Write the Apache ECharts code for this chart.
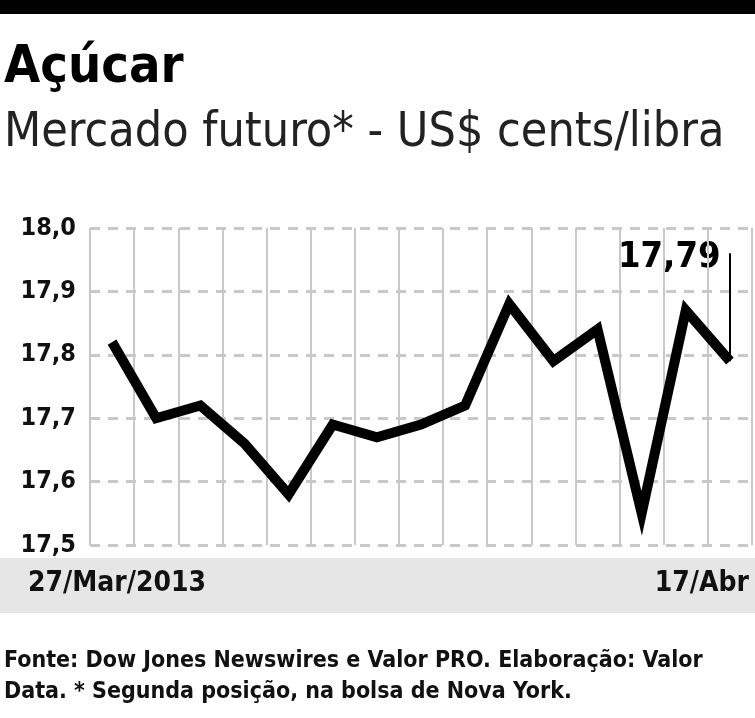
<!DOCTYPE html>
<html><head><meta charset="utf-8">
<script src="https://cdn.jsdelivr.net/npm/echarts@6/dist/echarts.min.js"></script>
<style>html,body{margin:0;padding:0;background:#fff}#c{width:755px;height:718px}</style>
</head><body><div id="c"></div>
<script>
// dias de pregão, 27/Mar a 17/Abr
var days = ['27/Mar','28/Mar','1/Abr','2/Abr','3/Abr','4/Abr','5/Abr','8/Abr','9/Abr','10/Abr','11/Abr','12/Abr','15/Abr','16/Abr','17/Abr'];
var prices = [17.82, 17.70, 17.72, 17.66, 17.58, 17.69, 17.67, 17.69, 17.72, 17.88, 17.79, 17.84, 17.55, 17.87, 17.79];
var yTicks = [17.5, 17.6, 17.7, 17.8, 17.9, 18.0];

var font = '"Liberation Sans Narrow", "DejaVu Sans Condensed", sans-serif';
var chart = echarts.init(document.getElementById('c'));
chart.setOption({
    animation: false,
    grid: {left: 90, right: 3, top: 228, bottom: 173},
    xAxis: {
        type: 'category', data: days, boundaryGap: true,
        axisLine: {show: false}, axisTick: {show: false}, axisLabel: {show: false, interval: 0},
        splitLine: {show: true, interval: 0, lineStyle: {color: '#c8c8c8', width: 2}}
    },
    yAxis: {
        type: 'value', min: 17.5, max: 18.0, interval: 0.1,
        axisLine: {show: false}, axisTick: {show: false},
        axisLabel: {
            margin: 14, color: '#111', fontFamily: font, fontWeight: 'bold', fontSize: 25,
            formatter: function (v) { return v.toFixed(1).replace('.', ','); }
        },
        splitLine: {lineStyle: {color: '#c8c8c8', width: 3, type: [10, 8]}}
    },
    series: [{
        type: 'line', data: prices, showSymbol: false,
        lineStyle: {color: '#000', width: 10, join: 'miter'},
        markLine: {
            symbol: 'none', silent: true, label: {show: false},
            lineStyle: {color: '#000', width: 2, type: 'solid'},
            data: [[{coord: [14, prices[14]]}, {coord: [14, 17.96]}]]
        }
    }],
    graphic: [
        {type: 'rect', shape: {x: 0, y: 0, width: 755, height: 14}, style: {fill: '#000'}},
        {type: 'text', left: 4, top: 42, style: {text: 'Açúcar', font: 'bold 52px ' + font, fill: '#000'}},
        {type: 'text', left: 4, top: 110, style: {text: 'Mercado futuro* - US$ cents/libra', font: '48px ' + font, fill: '#222'}},
        {type: 'text', left: 618, top: 240, style: {text: '17,79', font: 'bold 36px ' + font, fill: '#000'}},
        {type: 'rect', z: -1, shape: {x: 0, y: 558, width: 755, height: 55}, style: {fill: '#e6e6e6'}},
        {type: 'text', left: 28, top: 570, style: {text: '27/Mar/2013', font: 'bold 28px ' + font, fill: '#111'}},
        {type: 'text', right: 6, top: 570, style: {text: '17/Abr', font: 'bold 28px ' + font, fill: '#111'}},
        {type: 'text', left: 4, top: 646, style: {
            text: 'Fonte: Dow Jones Newswires e Valor PRO. Elaboração: Valor\nData. * Segunda posição, na bolsa de Nova York.',
            font: '600 23px ' + font, lineHeight: 31, fill: '#111'}}
    ]
});
</script></body></html>
